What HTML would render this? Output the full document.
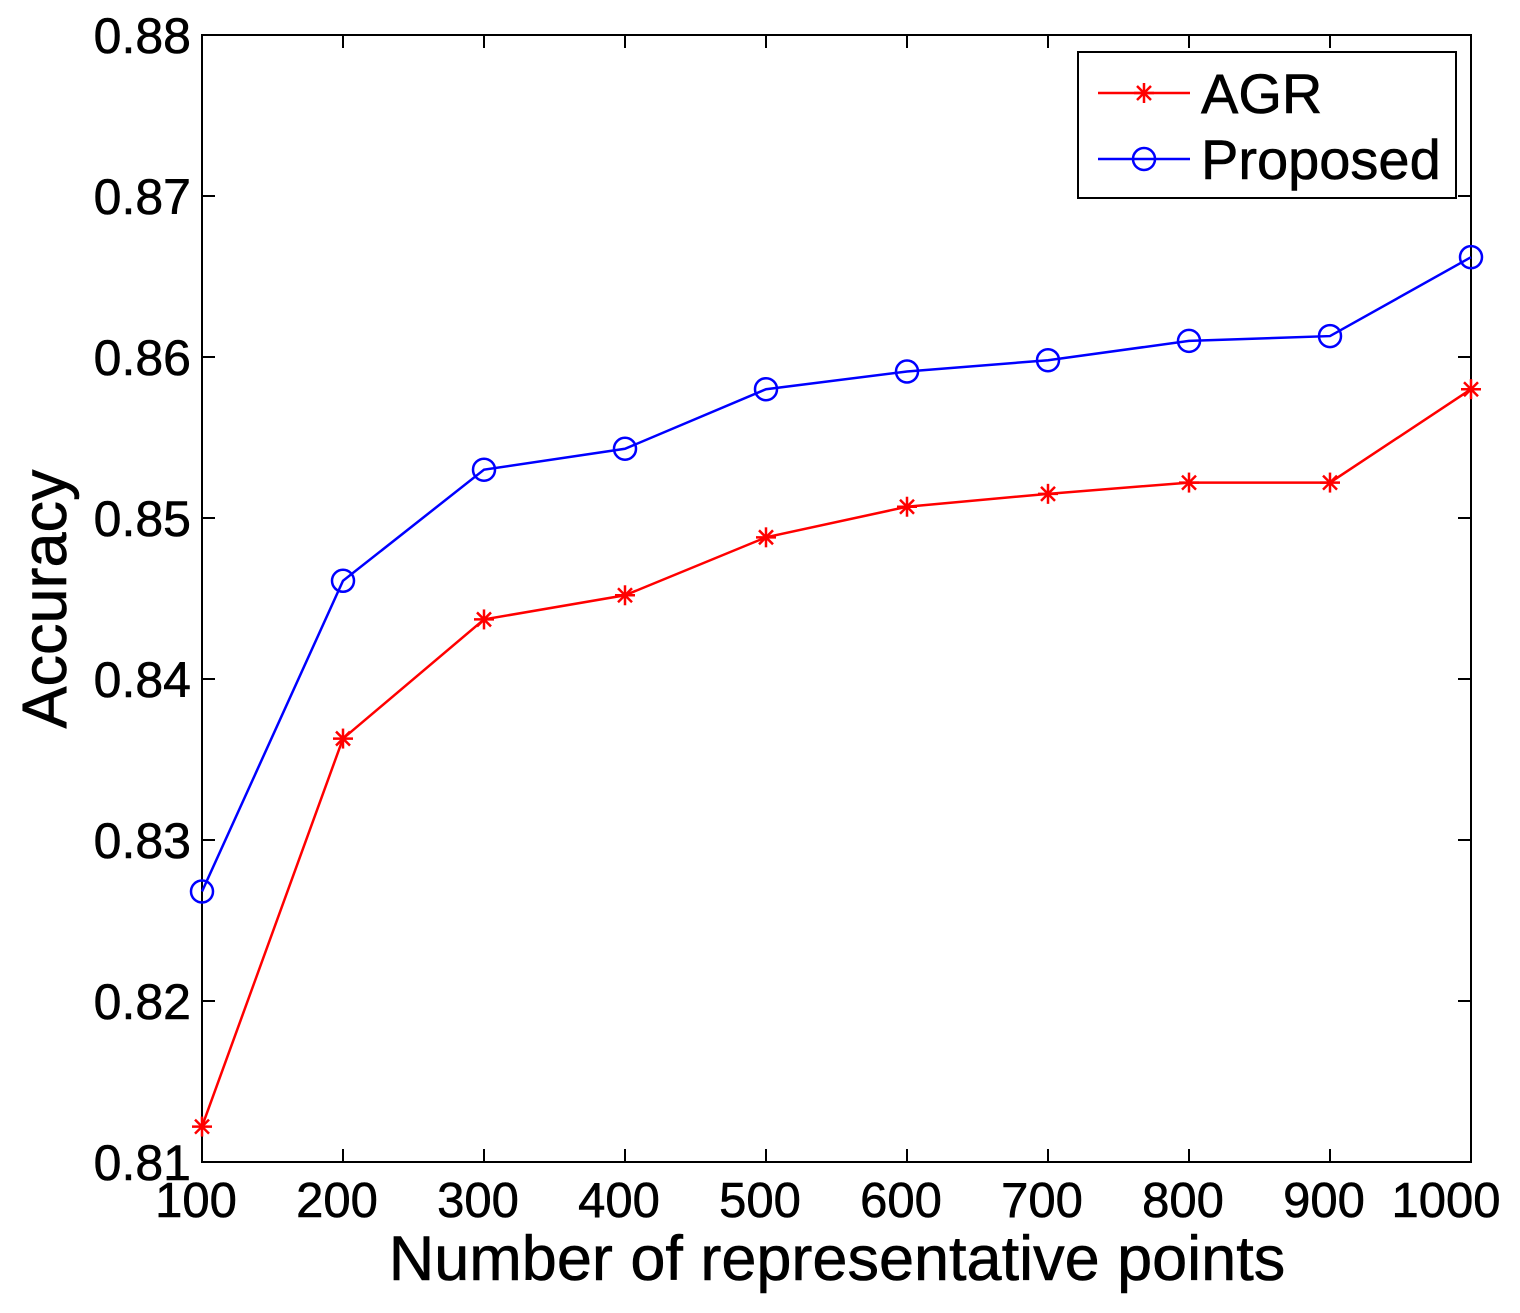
<!DOCTYPE html>
<html><head><meta charset="utf-8"><style>
body{margin:0;background:#fff}
svg text{font-family:"Liberation Sans",Arial,sans-serif;fill:#000;stroke:#000;stroke-width:0.6}
</style></head><body>
<svg id="chart" width="1520" height="1308" xmlns="http://www.w3.org/2000/svg"></svg>
<script>
const categories=[100,200,300,400,500,600,700,800,900,1000];
const agrValues=[0.8122,0.8363,0.8437,0.8452,0.8488,0.8507,0.8515,0.8522,0.8522,0.8580];
const proposedValues=[0.8268,0.8461,0.8530,0.8543,0.8580,0.8591,0.8598,0.8610,0.8613,0.8662];
const yTicks=[0.81,0.82,0.83,0.84,0.85,0.86,0.87,0.88];
const xTicks=[100,200,300,400,500,600,700,800,900,1000];

const L=202,R=1471,T=35,B=1162;
const sx=v=>L+(v-100)/900*(R-L);
const sy=v=>B-(v-0.81)/0.07*(B-T);
const NS="http://www.w3.org/2000/svg";
const svg=document.getElementById('chart');
function mk(tag,attrs,parent){const e=document.createElementNS(NS,tag);for(const k in attrs)e.setAttribute(k,attrs[k]);(parent||svg).appendChild(e);return e;}

const frame=mk('rect',{x:L,y:T,width:R-L,height:B-T,fill:'none',stroke:'#000','stroke-width':2});



const yg=mk('g',{});


yTicks.forEach(t=>{
  const y=sy(t);
  mk('line',{x1:L,x2:L+13,y1:y,y2:y,stroke:'#000','stroke-width':2},yg);
  mk('line',{x1:R,x2:R-13,y1:y,y2:y,stroke:'#000','stroke-width':2},yg);
  const tx=mk('text',{x:L-11,y:y+18,'text-anchor':'end','font-size':50},yg);
  tx.textContent=t.toFixed(2);
  
  
});
const xg=mk('g',{});


xTicks.forEach((t,i)=>{
  const x=sx(t);
  mk('line',{x1:x,x2:x,y1:B,y2:B-13,stroke:'#000','stroke-width':2},xg);
  mk('line',{x1:x,x2:x,y1:T,y2:T+13,stroke:'#000','stroke-width':2},xg);
  const off=(i===xTicks.length-1)?-25:-6;
  const tx=mk('text',{x:x+off,y:B+55,'text-anchor':'middle','font-size':49},xg);
  tx.textContent=t;
  
  
});
const xt=mk('text',{x:837,y:1280,'text-anchor':'middle','font-size':63});
xt.textContent='Number of representative points';


const yt=mk('text',{x:0,y:0,'text-anchor':'middle','font-size':63,transform:'translate(66,599) rotate(-90)'});
yt.textContent='Accuracy';



function star(g,x,y,c){
  const r=10;
  mk('line',{x1:x-r,x2:x+r,y1:y,y2:y,stroke:c,'stroke-width':2.5},g);
  mk('line',{x1:x,x2:x,y1:y-r,y2:y+r,stroke:c,'stroke-width':2.5},g);
  mk('line',{x1:x-7,x2:x+7,y1:y-7,y2:y+7,stroke:c,'stroke-width':2.5},g);
  mk('line',{x1:x-7,x2:x+7,y1:y+7,y2:y-7,stroke:c,'stroke-width':2.5},g);
}
function series(vals,color,marker,name){
  const g=mk('g',{});
  
  
  const pts=vals.map((v,i)=>sx(categories[i])+','+sy(v)).join(' ');
  mk('polyline',{points:pts,fill:'none',stroke:color,'stroke-width':2.5},g);
  vals.forEach((v,i)=>{
    const x=sx(categories[i]),y=sy(v);
    if(marker==='star')star(g,x,y,color);
    else mk('circle',{cx:x,cy:y,r:11,fill:'none',stroke:color,'stroke-width':2.5},g);
  });
}
series(agrValues,'#f00','star','agr-series');
series(proposedValues,'#00f','circle','proposed-series');

const lg=mk('g',{});


mk('rect',{x:1078,y:52,width:378,height:146,fill:'#fff',stroke:'#000','stroke-width':2},lg);
mk('line',{x1:1098,x2:1190,y1:93,y2:93,stroke:'#f00','stroke-width':2.5},lg);
star(lg,1144,93,'#f00');
const l1=mk('text',{x:1201,y:113,'font-size':56},lg);
l1.textContent='AGR';


mk('line',{x1:1098,x2:1190,y1:159,y2:159,stroke:'#00f','stroke-width':2.5},lg);
mk('circle',{cx:1144,cy:159,r:11,fill:'none',stroke:'#00f','stroke-width':2.5},lg);
const l2=mk('text',{x:1201,y:179,'font-size':56},lg);
l2.textContent='Proposed';


</script>
</body></html>
